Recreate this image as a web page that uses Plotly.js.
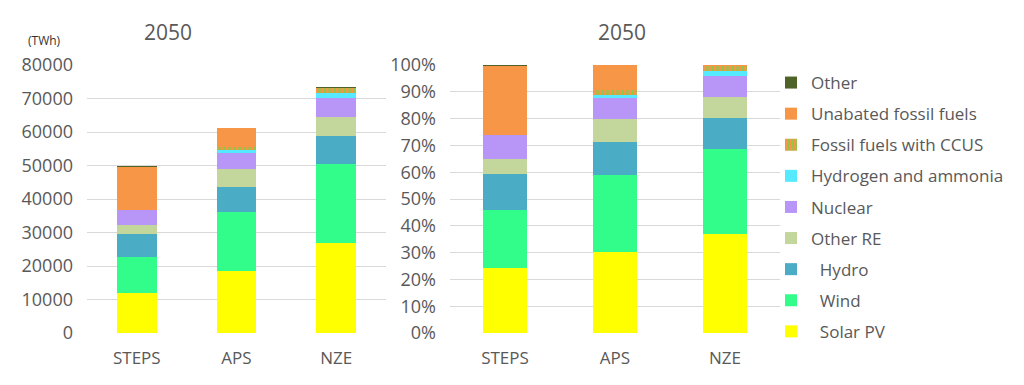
<!DOCTYPE html>
<html>
<head>
<meta charset="utf-8">
<script src="https://cdn.plot.ly/plotly-3.0.1.min.js"></script>
<style>html,body{margin:0;padding:0;background:#fff;}#chart{width:1024px;height:385px;}</style>
</head>
<body>
<div id="chart"></div>
<script>
// ---- Data (TWh, 2050) ----
const categories = ['STEPS', 'APS', 'NZE'];
const solarPV   = [12000, 18600, 27000];
const wind      = [10800, 17500, 23450];
const hydro     = [6750, 7600, 8350];
const otherRE   = [2800, 5150, 5700];
const nuclear   = [4400, 4950, 5750];
const hydrogen  = [50, 700, 1500];
const ccus      = [50, 1100, 1300];
const unabated  = [12850, 5600, 200];
const other     = [100, 100, 100];

const seriesNames = ['\u00a0\u00a0Solar PV', '\u00a0\u00a0Wind', '\u00a0\u00a0Hydro', 'Other RE', 'Nuclear',
  'Hydrogen and ammonia', 'Fossil fuels with CCUS', 'Unabated fossil fuels', 'Other'];
const seriesValues = [solarPV, wind, hydro, otherRE, nuclear, hydrogen, ccus, unabated, other];
const seriesColors = ['#ffff00', '#33fd8a', '#4bacc6', '#c3d69b', '#b796f8',
  '#55eaff', '#f79646', '#f79646', '#4f6228'];

const totals = categories.map((c, i) => seriesValues.reduce((s, arr) => s + arr[i], 0));

const traces = [];
seriesValues.forEach((vals, k) => {
  const marker = {color: seriesColors[k], line: {width: 0}};
  if (k === 6) {
    marker.pattern = {shape: '|', fgcolor: '#8cc84b', bgcolor: '#f79646', size: 5, solidity: 0.45};
  }
  traces.push({
    type: 'bar', x: categories, y: vals, name: seriesNames[k],
    marker: marker, xaxis: 'x', yaxis: 'y',
    legendgroup: 'g' + k, legendrank: 1000 - k, showlegend: true, hoverinfo: 'y+name'
  });
  traces.push({
    type: 'bar', x: categories, y: vals.map((v, i) => v / totals[i] * 100), name: seriesNames[k],
    marker: marker, xaxis: 'x2', yaxis: 'y2',
    legendgroup: 'g' + k, legendrank: 1000 - k, showlegend: false, hoverinfo: 'y+name'
  });
});

const txt = '#595959';
const fontFam = '"Open Sans", "Noto Sans", sans-serif';
const H = 385, W = 1024;

const layout = {
  width: W, height: H,
  margin: {l: 0, r: 0, t: 0, b: 0},
  paper_bgcolor: '#fff', plot_bgcolor: '#fff',
  barmode: 'stack', bargap: 0.6,
  font: {family: fontFam, color: txt, size: 16},
  showlegend: true,
  legend: {
    x: 771 / W, y: (H - 65) / H, xanchor: 'left', yanchor: 'top',
    traceorder: 'grouped', tracegroupgap: 6,
    font: {family: fontFam, size: 17, color: txt},
    bgcolor: 'rgba(0,0,0,0)'
  },
  xaxis: {
    domain: [87 / W, 386 / W], anchor: 'y',
    showgrid: false, zeroline: false, showline: false, ticks: '',
    tickfont: {size: 17, color: txt}, ticklabelstandoff: 13
  },
  yaxis: {
    domain: [52 / H, 320 / H], anchor: 'x',
    range: [0, 80000], dtick: 10000, tickformat: 'd',
    showgrid: true, gridcolor: '#d9d9d9', gridwidth: 1,
    zeroline: false, showline: false, ticks: '',
    tickfont: {size: 18, color: txt}, ticklabelstandoff: 13
  },
  xaxis2: {
    domain: [450 / W, 780 / W], anchor: 'y2',
    showgrid: false, zeroline: false, showline: false, ticks: '',
    tickfont: {size: 17, color: txt}, ticklabelstandoff: 13
  },
  yaxis2: {
    domain: [52 / H, 320 / H], anchor: 'x2',
    range: [0, 100], dtick: 10, ticksuffix: '%',
    showgrid: true, gridcolor: '#d9d9d9', gridwidth: 1,
    zeroline: false, showline: false, ticks: '',
    tickfont: {size: 18, color: txt}, ticklabelstandoff: 13
  },
  annotations: [
    {text: '2050', xref: 'paper', yref: 'paper', x: 168 / W, y: (H - 32) / H,
     xanchor: 'center', yanchor: 'middle', showarrow: false, font: {size: 21, color: txt}},
    {text: '2050', xref: 'paper', yref: 'paper', x: 622 / W, y: (H - 32) / H,
     xanchor: 'center', yanchor: 'middle', showarrow: false, font: {size: 21, color: txt}},
    {text: '(TWh)', xref: 'paper', yref: 'paper', x: 44 / W, y: (H - 40) / H,
     xanchor: 'center', yanchor: 'middle', showarrow: false, font: {size: 12, color: '#333'}}
  ]
};

Plotly.newPlot('chart', traces, layout, {displayModeBar: false, staticPlot: true});
</script>
</body>
</html>
